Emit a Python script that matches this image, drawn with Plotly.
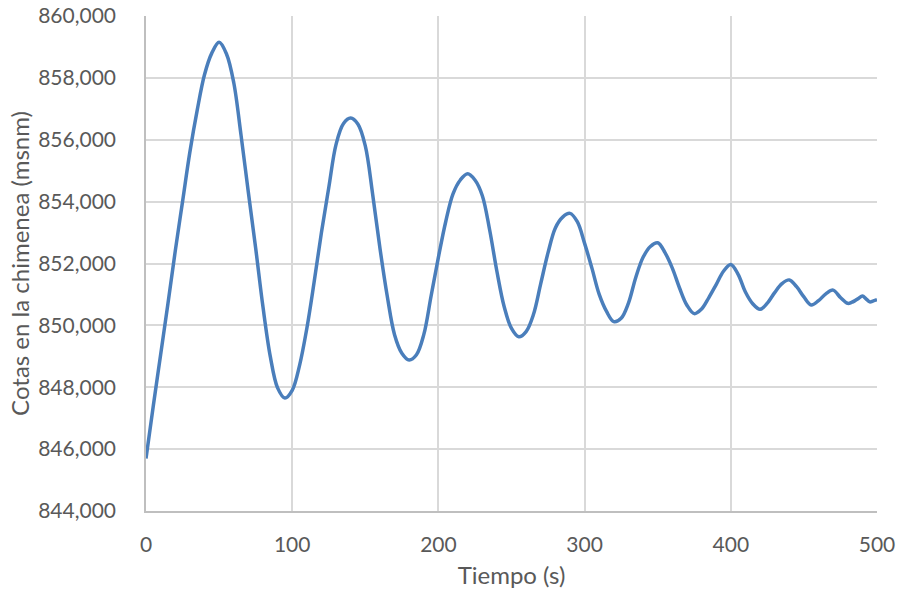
import plotly.graph_objects as go

# Time (s)
tiempo = [0, 5, 10, 15, 20, 25, 30, 35, 40, 45, 50, 55, 60, 65, 70, 75, 80, 85, 90, 95,
          100, 105, 110, 115, 120, 125, 130, 135, 140, 145, 150, 155, 160, 165, 170, 175,
          180, 185, 190, 195, 200, 205, 210, 215, 220, 225, 230, 235, 240, 245, 250, 255,
          260, 265, 270, 275, 280, 285, 290, 295, 300, 305, 310, 315, 320, 325, 330, 335,
          340, 345, 350, 355, 360, 365, 370, 375, 380, 385, 390, 395, 400, 405, 410, 415,
          420, 425, 430, 435, 440, 445, 450, 455, 460, 465, 470, 475, 480, 482.5, 485,
          487.5, 490, 492.5, 495, 497.5, 500]
# Water level in the surge tank (msnm)
cota = [845.70, 847.40, 849.05, 850.70, 852.40, 854.00, 855.60, 856.95, 858.10, 858.80,
        859.15, 858.78, 857.85, 856.15, 854.30, 852.50, 850.60, 849.00, 847.98, 847.65,
        847.90, 848.70, 849.90, 851.40, 853.00, 854.45, 855.85, 856.52, 856.70, 856.50,
        855.80, 854.25, 852.50, 850.95, 849.70, 849.10, 848.88, 849.05, 849.70, 850.95,
        852.20, 853.35, 854.25, 854.70, 854.90, 854.70, 854.20, 853.10, 851.75, 850.60,
        849.90, 849.63, 849.80, 850.35, 851.35, 852.35, 853.15, 853.50, 853.62, 853.35,
        852.65, 851.85, 851.00, 850.45, 850.12, 850.23, 850.72, 851.55, 852.20, 852.55,
        852.67, 852.35, 851.85, 851.20, 850.65, 850.38, 850.53, 850.90, 851.32, 851.75,
        851.97, 851.65, 851.08, 850.70, 850.52, 850.72, 851.06, 851.35, 851.47, 851.25,
        850.92, 850.66, 850.80, 851.02, 851.14, 850.90, 850.71, 850.74, 850.80, 850.88,
        850.95, 850.86, 850.76, 850.79, 850.83]

x_ticks = [0, 100, 200, 300, 400, 500]
y_ticks = [844, 846, 848, 850, 852, 854, 856, 858, 860]

font_family = "Lato, 'Open Sans', sans-serif"
grey = "#595959"
grid = "#D9D9D9"

fig = go.Figure()
fig.add_trace(go.Scatter(
    x=tiempo, y=cota, mode="lines",
    line=dict(color="#4A7EBB", width=3.5, shape="spline", smoothing=1.0),
    showlegend=False,
))

fig.update_layout(
    width=897, height=595,
    margin=dict(l=146, r=20, t=16, b=84),
    paper_bgcolor="white", plot_bgcolor="white",
    separators=",.",
    font=dict(family=font_family, size=21, color=grey),
)
fig.update_xaxes(
    range=[0, 500], tickvals=x_ticks, automargin=False,
    showgrid=True, gridcolor=grid, gridwidth=1.5,
    showline=True, linecolor="#BFBFBF", linewidth=1.5,
    ticks="", ticklabelstandoff=14,
    title=dict(text="Tiempo (s)", font=dict(size=24, color=grey), standoff=12),
    zeroline=False,
)
fig.update_yaxes(
    range=[844, 860], tickvals=y_ticks, tickformat=".3f", automargin=False,
    showgrid=True, gridcolor=grid, gridwidth=1.5,
    showline=True, linecolor="#BFBFBF", linewidth=1.5,
    ticks="", ticklabelstandoff=24,
    title=dict(text="Cotas en la chimenea (msnm)", font=dict(size=24, color=grey), standoff=2),
    zeroline=False,
)

fig.write_html("out.html")
